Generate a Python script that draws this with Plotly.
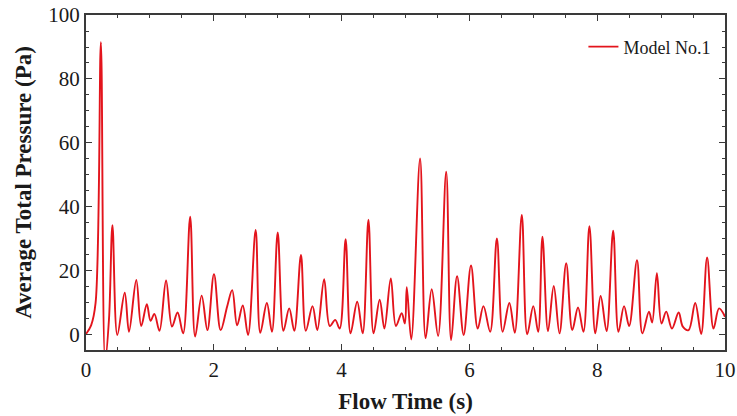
import plotly.graph_objects as go

# Flow time (s) at peaks / troughs of the signal
flow_time = [
    0.00, 0.08, 0.15, 0.233, 0.30, 0.36, 0.414, 0.49, 0.606, 0.673, 0.787, 0.864,
    0.952, 1.01, 1.07, 1.15, 1.253, 1.346, 1.433, 1.52, 1.63, 1.708, 1.81, 1.90,
    2.003, 2.107, 2.21, 2.288, 2.365, 2.453, 2.536, 2.655, 2.728, 2.83, 2.91, 3.00,
    3.09, 3.18, 3.26, 3.364, 3.44, 3.545, 3.62, 3.727, 3.815, 3.90, 3.97, 4.063,
    4.14, 4.244, 4.33, 4.42, 4.50, 4.596, 4.67, 4.77, 4.85, 4.94, 4.99, 5.02,
    5.09, 5.228, 5.315, 5.41, 5.51, 5.637, 5.714, 5.807, 5.91, 6.025, 6.13, 6.22,
    6.325, 6.43, 6.52, 6.625, 6.71, 6.82, 6.905, 7.00, 7.076, 7.143, 7.23, 7.32,
    7.41, 7.515, 7.61, 7.70, 7.785, 7.878, 7.97, 8.054, 8.147, 8.25, 8.333, 8.42,
    8.50, 8.623, 8.707, 8.81, 8.86, 8.934, 9.006, 9.08, 9.17, 9.275, 9.34, 9.43,
    9.534, 9.627, 9.72, 9.82, 9.907, 10.0,
]

# Average total pressure (Pa)
pressure = [
    0.3, 3.0, 10.0, 91.5, -8.0, 5.0, 34.3, 0.0, 13.2, 1.0, 17.2, 2.8,
    9.6, 4.4, 6.6, 1.3, 17.0, 2.6, 7.0, 0.5, 37.0, -0.5, 12.3, 1.5,
    19.0, 1.5, 9.0, 14.0, 3.0, 9.2, 0.0, 32.8, 0.7, 10.0, 1.0, 32.0,
    1.3, 8.3, 1.3, 25.0, 1.3, 9.0, 1.5, 17.4, 2.8, 4.7, 2.0, 29.9,
    0.5, 10.4, 0.5, 36.0, 0.5, 11.0, 2.0, 17.7, 2.8, 6.8, 3.6, 14.9,
    -1.4, 55.2, -1.0, 14.3, -0.3, 51.0, -1.6, 18.4, 0.0, 21.7, 2.0, 9.0,
    1.0, 30.2, 1.0, 10.0, 0.7, 37.5, 0.2, 9.0, 1.0, 30.7, 1.2, 15.3,
    0.5, 22.4, 1.5, 8.6, 1.0, 34.0, 0.5, 12.2, 1.2, 32.6, 1.0, 9.0,
    2.8, 23.4, 0.5, 7.3, 3.9, 19.3, 3.6, 7.3, 2.0, 7.0, 2.6, 1.5,
    10.0, 0.3, 24.2, 2.0, 8.3, 5.7,
]

series_name = "Model No.1"
x_ticks = [0, 2, 4, 6, 8, 10]
y_ticks = [0, 20, 40, 60, 80, 100]

serif = "Liberation Serif, Times New Roman, serif"
axis_col = "#3a3a3a"
text_col = "#1a1a1a"

fig = go.Figure()
fig.add_trace(go.Scatter(
    x=flow_time, y=pressure, mode="lines", name=series_name,
    line=dict(color="#e3141c", width=1.9, shape="spline", smoothing=1.0),
))

common = dict(
    showline=True, linecolor=axis_col, linewidth=2, mirror="ticks",
    ticks="inside", ticklen=6, tickwidth=1.2, tickcolor=axis_col,
    showgrid=False, zeroline=False, automargin=False,
    tickfont=dict(family=serif, size=21, color=text_col),
)

fig.update_xaxes(
    range=[0, 10], tickvals=x_ticks, ticklabeloverflow="allow",
    minor=dict(dtick=0.5, ticks="inside", ticklen=3, tickcolor=axis_col, showgrid=False),
    title=dict(text="<b>Flow Time (s)</b>", font=dict(family=serif, size=23, color=text_col), standoff=12),
    **common,
)
fig.update_yaxes(
    range=[-4.7, 100], tickvals=y_ticks,
    minor=dict(dtick=5, ticks="inside", ticklen=3, tickcolor=axis_col, showgrid=False),
    title=dict(text="<b>Average Total Pressure (Pa)</b>", font=dict(family=serif, size=23, color=text_col), standoff=10),
    **common,
)

fig.update_layout(
    width=737, height=416,
    margin=dict(l=86, r=12, t=15, b=66),
    paper_bgcolor="white", plot_bgcolor="white",
    showlegend=True,
    legend=dict(x=0.985, y=0.96, xanchor="right", yanchor="top",
                bgcolor="rgba(0,0,0,0)",
                font=dict(family=serif, size=18, color=text_col)),
)

fig.write_html("out.html", config={"displayModeBar": False},
               post_script="document.body.style.margin='0';document.body.style.overflow='hidden';")
